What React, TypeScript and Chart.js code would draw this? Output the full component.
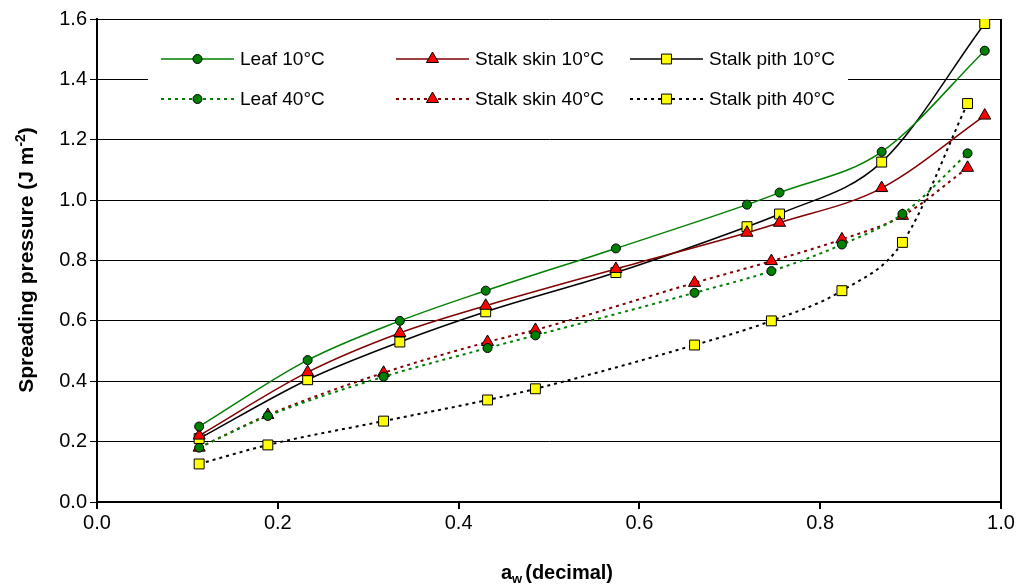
import React, { useEffect, useRef } from 'react';
import { Chart, registerables } from 'chart.js';

Chart.register(...registerables);

// water activity (decimal) of the salt solutions
const aw10 = [0.113, 0.233, 0.335, 0.43, 0.574, 0.719, 0.755, 0.868, 0.982];
const aw40 = [0.113, 0.189, 0.317, 0.432, 0.485, 0.661, 0.746, 0.824, 0.891, 0.963];

// spreading pressure (J m-2)
const leaf10 = [0.25, 0.47, 0.6, 0.7, 0.84, 0.985, 1.025, 1.16, 1.495];
const skin10 = [0.22, 0.43, 0.56, 0.65, 0.772, 0.892, 0.925, 1.04, 1.28];
const pith10 = [0.21, 0.405, 0.53, 0.63, 0.76, 0.912, 0.954, 1.126, 1.585];
const leaf40 = [0.18, 0.285, 0.415, 0.51, 0.552, 0.693, 0.765, 0.853, 0.954, 1.155];
const skin40 = [0.18, 0.288, 0.428, 0.53, 0.57, 0.726, 0.798, 0.87, 0.948, 1.107];
const pith40 = [0.126, 0.189, 0.268, 0.338, 0.375, 0.52, 0.6, 0.7, 0.86, 1.32];

const seriesLabels = [
  'Leaf 10°C',
  'Stalk skin 10°C',
  'Stalk pith 10°C',
  'Leaf 40°C',
  'Stalk skin 40°C',
  'Stalk pith 40°C',
];

const xTickValues = [0, 0.2, 0.4, 0.6, 0.8, 1.0];
const yTickValues = [0, 0.2, 0.4, 0.6, 0.8, 1.0, 1.2, 1.4, 1.6];

const FONT = '"Liberation Sans", Arial, Helvetica, sans-serif';
const DASH = [3, 4];

type Style = { line: string; fill: string; shape: 'circle' | 'triangle' | 'rect'; radius: number; dashed: boolean };

const styles: Style[] = [
  { line: '#008000', fill: '#008000', shape: 'circle', radius: 4.5, dashed: false },
  { line: '#800000', fill: '#ff0000', shape: 'triangle', radius: 7, dashed: false },
  { line: '#000000', fill: '#ffff00', shape: 'rect', radius: 7, dashed: false },
  { line: '#008000', fill: '#008000', shape: 'circle', radius: 4.5, dashed: true },
  { line: '#800000', fill: '#ff0000', shape: 'triangle', radius: 7, dashed: true },
  { line: '#000000', fill: '#ffff00', shape: 'rect', radius: 7, dashed: true },
];

function drawMarker(ctx: CanvasRenderingContext2D, s: Style, x: number, y: number) {
  ctx.save();
  ctx.setLineDash([]);
  ctx.fillStyle = s.fill;
  ctx.strokeStyle = '#000';
  ctx.lineWidth = 1;
  ctx.beginPath();
  const r = s.radius;
  if (s.shape === 'circle') {
    ctx.arc(x, y, r, 0, Math.PI * 2);
  } else if (s.shape === 'triangle') {
    ctx.moveTo(x, y - r);
    ctx.lineTo(x + r * 0.866, y + r / 2);
    ctx.lineTo(x - r * 0.866, y + r / 2);
    ctx.closePath();
  } else {
    const h = r * Math.SQRT1_2;
    ctx.rect(x - h, y - h, 2 * h, 2 * h);
  }
  ctx.fill();
  ctx.stroke();
  ctx.restore();
}

const legendPlugin = {
  id: 'insideLegend',
  beforeDatasetsDraw(chart: any) {
    const ctx: CanvasRenderingContext2D = chart.ctx;
    ctx.save();
    ctx.fillStyle = '#fff';
    ctx.fillRect(148, 38, 700, 80);
    const colX = [161, 396, 630];
    const rowY = [59, 99];
    const lineLen = 73;
    ctx.font = `19px ${FONT}`;
    ctx.textBaseline = 'middle';
    ctx.textAlign = 'left';
    for (let i = 0; i < 6; i++) {
      const s = styles[i];
      const x0 = colX[i % 3];
      const y = rowY[Math.floor(i / 3)];
      ctx.strokeStyle = s.line;
      ctx.lineWidth = s.dashed ? 2 : 1.5;
      ctx.setLineDash(s.dashed ? DASH : []);
      ctx.beginPath();
      ctx.moveTo(x0, y);
      ctx.lineTo(x0 + lineLen, y);
      ctx.stroke();
      ctx.setLineDash([]);
      drawMarker(ctx, s, x0 + lineLen / 2, y);
      ctx.fillStyle = '#000';
      ctx.fillText(seriesLabels[i], x0 + lineLen + 6, y + 1);
    }
    ctx.restore();
  },
};

const titlesPlugin = {
  id: 'axisTitles',
  afterDraw(chart: any) {
    const ctx: CanvasRenderingContext2D = chart.ctx;
    ctx.save();
    ctx.fillStyle = '#000';
    ctx.textBaseline = 'alphabetic';
    ctx.textAlign = 'left';
    // y title
    const big = `bold 21px ${FONT}`;
    const small = `bold 14px ${FONT}`;
    const yMain = 'Spreading pressure (J m';
    const ySup = '-2';
    const yEnd = ')';
    ctx.font = big;
    const w1 = ctx.measureText(yMain).width;
    const w3 = ctx.measureText(yEnd).width;
    ctx.font = small;
    const w2 = ctx.measureText(ySup).width;
    const total = w1 + w2 + w3;
    ctx.translate(33, 260);
    ctx.rotate(-Math.PI / 2);
    let x = -total / 2;
    ctx.font = big;
    ctx.fillText(yMain, x, 0);
    x += w1;
    ctx.font = small;
    ctx.fillText(ySup, x, -8);
    x += w2;
    ctx.font = big;
    ctx.fillText(yEnd, x, 0);
    ctx.setTransform(1, 0, 0, 1, 0, 0);
    // x title
    const a = 'a';
    const sub = 'w';
    const rest = '(decimal)';
    const bigX = `bold 20px ${FONT}`;
    const smallX = `bold 13px ${FONT}`;
    ctx.font = bigX;
    const wa = ctx.measureText(a).width;
    const wr = ctx.measureText(rest).width;
    ctx.font = smallX;
    const ws = ctx.measureText(sub).width + 3;
    let xx = 557 - (wa + ws + wr) / 2;
    const base = 579;
    ctx.font = bigX;
    ctx.fillText(a, xx, base);
    xx += wa;
    ctx.font = smallX;
    ctx.fillText(sub, xx, base + 4);
    xx += ws;
    ctx.font = bigX;
    ctx.fillText(rest, xx, base);
    ctx.restore();
  },
};

function makeData(xs: number[], ys: number[]) {
  return xs.map((x, i) => ({ x, y: ys[i] }));
}

export default function App() {
  const ref = useRef<HTMLCanvasElement | null>(null);

  useEffect(() => {
    if (!ref.current) return;
    Chart.defaults.font.family = FONT;
    const series = [
      makeData(aw10, leaf10),
      makeData(aw10, skin10),
      makeData(aw10, pith10),
      makeData(aw40, leaf40),
      makeData(aw40, skin40),
      makeData(aw40, pith40),
    ];
    const datasets = series.map((data, i) => {
      const s = styles[i];
      return {
        label: seriesLabels[i],
        data,
        borderColor: s.line,
        borderWidth: s.dashed ? 2 : 1.5,
        borderDash: s.dashed ? DASH : [],
        cubicInterpolationMode: 'monotone' as const,
        pointStyle: s.shape,
        pointRadius: s.radius,
        pointBackgroundColor: s.fill,
        pointBorderColor: '#000',
        pointBorderWidth: 1,
        fill: false,
        showLine: true,
      };
    });
    const chart = new Chart(ref.current, {
      type: 'scatter',
      data: { datasets },
      plugins: [legendPlugin, titlesPlugin],
      options: {
        responsive: false,
        animation: false,
        events: [],
        layout: { padding: { top: 19, right: 19, left: 0, bottom: 0 } },
        plugins: { legend: { display: false }, tooltip: { enabled: false }, title: { display: false } },
        scales: {
          x: {
            type: 'linear',
            min: 0,
            max: 1,
            afterBuildTicks: (s: any) => {
              s.ticks = xTickValues.map((v) => ({ value: v }));
            },
            afterFit: (s: any) => {
              s.height = 82;
            },
            ticks: {
              callback: (v: any) => Number(v).toFixed(1),
              font: { size: 20, family: FONT },
              color: '#000',
              padding: 2,
              maxRotation: 0,
              autoSkip: false,
            },
            grid: {
              color: (c: any) => (c.tick && Math.abs(c.tick.value - 1) < 1e-9 ? '#000' : 'rgba(0,0,0,0)'),
              tickColor: '#000',
              tickLength: 7,
              lineWidth: 2,
            },
            border: { display: true, color: '#000', width: 2 },
          },
          y: {
            type: 'linear',
            min: 0,
            max: 1.6,
            afterBuildTicks: (s: any) => {
              s.ticks = yTickValues.map((v) => ({ value: v }));
            },
            afterFit: (s: any) => {
              s.width = 97;
            },
            ticks: {
              callback: (v: any) => Number(v).toFixed(1),
              font: { size: 20, family: FONT },
              color: '#000',
              padding: 3,
              autoSkip: false,
            },
            grid: {
              color: '#000',
              tickColor: '#000',
              tickLength: 7,
              lineWidth: 1,
            },
            border: { display: true, color: '#000', width: 2 },
          },
        },
      },
    } as any);
    return () => chart.destroy();
  }, []);

  return (
    <div style={{ position: 'absolute', left: 0, top: 0, width: 1020, height: 584, background: '#fff' }}>
      <canvas ref={ref} width={1020} height={584} />
    </div>
  );
}
